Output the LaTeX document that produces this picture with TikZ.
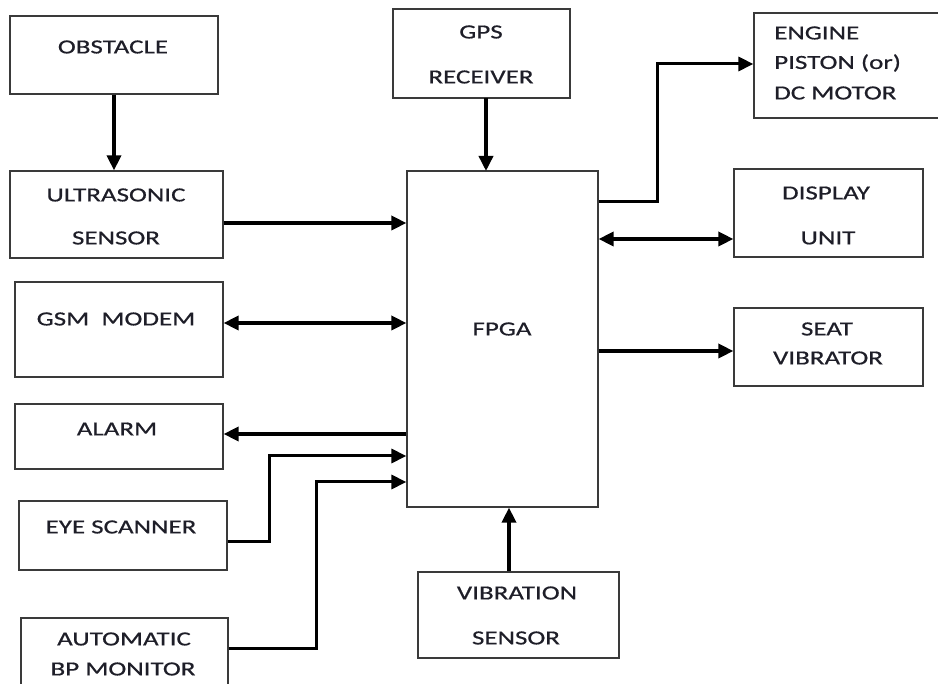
\documentclass[tikz,border=0pt]{standalone}
\usepackage{fontspec}
\setmainfont{Carlito}[FakeStretch=1.35,FakeBold=0.6]
\usetikzlibrary{arrows.meta}
\definecolor{boxline}{HTML}{3A3A3A}
\definecolor{txt}{HTML}{1E1E28}
\tikzset{
  box/.style={draw=boxline, line width=1.2pt, rectangle, inner sep=0pt},
  lbl/.style={inner sep=0pt, text=txt, font=\fontsize{20pt}{24pt}\selectfont, anchor=center},
  lbll/.style={inner sep=0pt, text=txt, font=\fontsize{20pt}{24pt}\selectfont, anchor=west},
  arr/.style={line width=3.5pt, -{Triangle[length=15pt,width=14pt]}},
  darr/.style={line width=3.5pt, {Triangle[length=15pt,width=14pt]}-{Triangle[length=15pt,width=14pt]}},
  earr/.style={line width=3pt, -{Triangle[length=15pt,width=14pt]}}
}
\begin{document}
\begin{tikzpicture}[x=1pt,y=-1pt]
\clip (0,0) rectangle (938,684);
\fill[white] (0,0) rectangle (938,684);
% boxes
\node[box, minimum width=208pt, minimum height=78pt] (obs) at (114,55) {};
\node[box, minimum width=177pt, minimum height=89pt] (gps) at (481.5,53.5) {};
\node[box, minimum width=191pt, minimum height=105pt] (eng) at (849.5,65.5) {};
\node[box, minimum width=213pt, minimum height=87pt] (ult) at (116.5,214.5) {};
\node[box, minimum width=191pt, minimum height=336pt] (fpga) at (502.5,339) {};
\node[box, minimum width=189pt, minimum height=88pt] (disp) at (828.5,213) {};
\node[box, minimum width=208pt, minimum height=95pt] (gsm) at (119,329.5) {};
\node[box, minimum width=189pt, minimum height=78pt] (seat) at (828.5,347) {};
\node[box, minimum width=208pt, minimum height=65pt] (alarm) at (119,436.5) {};
\node[box, minimum width=208pt, minimum height=69pt] (eye) at (123,535.5) {};
\node[box, minimum width=201pt, minimum height=86pt] (vib) at (518.5,615) {};
\node[box, minimum width=207pt, minimum height=82pt] (bp) at (124.5,659) {};
% labels
\node[lbl] (tobs) at (113,47) {OBSTACLE};
\node[lbl] (tgps1) at (481,32) {GPS};
\node[lbl] (tgps2) at (481,77) {RECEIVER};
\node[lbll] (teng1) at (774,33) {ENGINE};
\node[lbll] (teng2) at (774,63) {PISTON (or)};
\node[lbll] (teng3) at (774,93) {DC MOTOR};
\node[lbl] (tult1) at (116,195) {ULTRASONIC};
\node[lbl] (tult2) at (116,238) {SENSOR};
\node[lbl] (tdisp1) at (826,193) {DISPLAY};
\node[lbl] (tdisp2) at (828,238) {UNIT};
\node[lbl] (tgsm) at (116,319) {GSM\ \ MODEM};
\node[lbl] (tfpga) at (502,329) {FPGA};
\node[lbl] (tseat1) at (827,329) {SEAT};
\node[lbl] (tseat2) at (828,358) {VIBRATOR};
\node[lbl] (talarm) at (117,429) {ALARM};
\node[lbl] (teye) at (121,527) {EYE SCANNER};
\node[lbl] (tvib1) at (517,593) {VIBRATION};
\node[lbl] (tvib2) at (516,638) {SENSOR};
\node[lbl] (tbp1) at (124,639) {AUTOMATIC};
\node[lbl] (tbp2) at (123,669) {BP MONITOR};
% connectors
\draw[arr] (obs.south) -- (obs.south |- ult.north);
\draw[arr] (486,98) -- (486,171);
\draw[arr] (ult.east |- 0,223) -- (fpga.west |- 0,223);
\draw[earr] (fpga.east |- 0,202) -- (657,202) -- (657,64) -- (eng.west |- 0,64);
\draw[darr] (fpga.east |- 0,239) -- (disp.west |- 0,239);
\draw[darr] (gsm.east |- 0,323) -- (fpga.west |- 0,323);
\draw[arr] (fpga.east |- 0,351) -- (seat.west |- 0,351);
\draw[arr] (fpga.west |- 0,434) -- (alarm.east |- 0,434);
\draw[earr] (eye.east |- 0,542) -- (269,542) -- (269,456) -- (fpga.west |- 0,456);
\draw[earr] (bp.east |- 0,648) -- (316,648) -- (316,482) -- (fpga.west |- 0,482);
\draw[arr] (vib.north -| 509,0) -- (fpga.south -| 509,0);
\end{tikzpicture}
\end{document}
